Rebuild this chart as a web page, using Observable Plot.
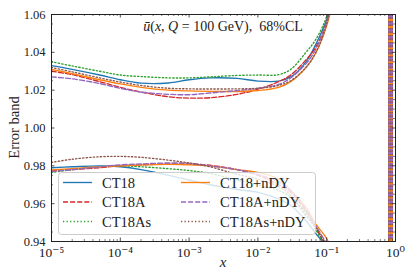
<!DOCTYPE html>
<html><head><meta charset="utf-8">
<script src="https://cdn.jsdelivr.net/npm/d3@7"></script>
<script src="https://cdn.jsdelivr.net/npm/@observablehq/plot@0.6"></script>
<style>
body{margin:0;background:#fff;}
#wrap{position:relative;width:407px;height:271px;overflow:hidden;font-family:"Liberation Serif","DejaVu Serif","Times New Roman",serif;}
#wrap svg{position:absolute;left:0;top:0;}
#wrap text{font-family:"Liberation Serif","DejaVu Serif","Times New Roman",serif;}
</style></head><body><div id="wrap"></div>
<script>
// x grid (log)
const xs = [1e-5, 2e-5, 5e-5, 1e-4, 2e-4, 5e-4, 1e-3, 2e-3, 5e-3, 1e-2, 2e-2, 3e-2, 5e-2, 7e-2, 0.1, 0.13];
const seriesNames = ["CT18", "CT18A", "CT18As", "CT18+nDY", "CT18A+nDY", "CT18As+nDY"];
const seriesColors = ["#1f77b4", "#d62728", "#2ca02c", "#ff7f0e", "#9467bd", "#8c564b"];
const seriesDash = ["none", "5,2.1", "1.3,2.2", "none", "5,2.1", "1.3,2.2"];

const upperCT18      = [1.033, 1.031, 1.028, 1.0255, 1.0237, 1.0238, 1.0255, 1.0265, 1.0262, 1.0248, 1.0248, 1.027, 1.035, 1.0445, 1.0575, 1.075];
const upperCT18A     = [1.030, 1.0282, 1.0245, 1.0215, 1.019, 1.0165, 1.0158, 1.016, 1.0178, 1.0205, 1.0245, 1.028, 1.036, 1.043, 1.056, 1.075];
const upperCT18As    = [1.035, 1.0328, 1.030, 1.028, 1.0272, 1.0265, 1.0265, 1.027, 1.0278, 1.028, 1.0282, 1.031, 1.040, 1.047, 1.059, 1.075];
const upperCT18nDY   = [1.031, 1.0287, 1.0255, 1.0233, 1.0215, 1.020, 1.0196, 1.0194, 1.0193, 1.0198, 1.0215, 1.0245, 1.032, 1.040, 1.054, 1.072];
const upperCT18AnDY  = [1.027, 1.026, 1.0235, 1.021, 1.019, 1.0178, 1.0176, 1.0185, 1.0198, 1.021, 1.023, 1.0265, 1.034, 1.042, 1.056, 1.075];
const upperCT18AsnDY = [1.032, 1.0297, 1.0265, 1.0243, 1.0225, 1.021, 1.0207, 1.0206, 1.0207, 1.021, 1.0225, 1.025, 1.032, 1.040, 1.055, 1.074];

const lowerCT18      = [0.979, 0.9795, 0.980, 0.9795, 0.978, 0.975, 0.9725, 0.970, 0.9675, 0.966, 0.9625, 0.959, 0.951, 0.944, 0.937, 0.925];
const lowerCT18A     = [0.9775, 0.978, 0.979, 0.980, 0.9805, 0.981, 0.981, 0.9803, 0.978, 0.975, 0.970, 0.966, 0.956, 0.947, 0.936, 0.925];
const lowerCT18As    = [0.9765, 0.978, 0.9795, 0.980, 0.9795, 0.9785, 0.9775, 0.976, 0.9725, 0.970, 0.967, 0.9635, 0.955, 0.946, 0.935, 0.924];
const lowerCT18nDY   = [0.9778, 0.9785, 0.9795, 0.980, 0.9805, 0.9808, 0.9805, 0.980, 0.978, 0.9765, 0.973, 0.967, 0.958, 0.949, 0.9415, 0.930];
const lowerCT18AnDY  = [0.977, 0.978, 0.9795, 0.9805, 0.981, 0.9815, 0.9813, 0.980, 0.978, 0.9755, 0.9715, 0.967, 0.957, 0.948, 0.9385, 0.927];
const lowerCT18AsnDY = [0.9818, 0.9835, 0.9848, 0.985, 0.9845, 0.983, 0.9815, 0.9795, 0.9755, 0.973, 0.969, 0.9645, 0.9535, 0.9475, 0.936, 0.925];

// x positions where the relative error diverges (vertical band near x ~ 0.85)
const divergeX = [0.80, 0.85, 0.90];

// axis ticks
const xMajor = [1e-5, 1e-4, 1e-3, 1e-2, 1e-1, 1];
const yMajor = [0.94, 0.96, 0.98, 1.00, 1.02, 1.04, 1.06];
const yDomain = [0.94, 1.06];
const xDomain = [1e-5, 1];

const uppers = [upperCT18, upperCT18A, upperCT18As, upperCT18nDY, upperCT18AnDY, upperCT18AsnDY];
const lowers = [lowerCT18, lowerCT18A, lowerCT18As, lowerCT18nDY, lowerCT18AnDY, lowerCT18AsnDY];

const xMinor = [];
for (let e = -5; e < 0; e++) for (let k = 2; k <= 9; k++) xMinor.push(k * Math.pow(10, e));
const yMinor = d3.range(0, 25).map(i => +(0.94 + i * 0.005).toFixed(3)).filter(v => !yMajor.some(m => Math.abs(m - v) < 1e-9));

const W = 407, H = 271, mL = 51, mR = 12, mT = 14, mB = 30;
const iW = W - mL - mR, iH = H - mT - mB;
const lw = 1.35;
const FF = '"Liberation Serif","DejaVu Serif","Times New Roman",serif';

const sup = {"-": "\u207B", "0": "\u2070", "1": "\u00B9", "2": "\u00B2", "3": "\u00B3", "4": "\u2074", "5": "\u2075"};
const fmtPow = d => "10" + String(Math.round(Math.log10(d))).split("").map(c => sup[c]).join("");

const marks = [];
seriesNames.forEach((name, si) => {
  const rows = [];
  xs.forEach((x, i) => rows.push({x, y: uppers[si][i], band: "upper"}));
  xs.forEach((x, i) => rows.push({x, y: lowers[si][i], band: "lower"}));
  marks.push(Plot.line(rows, {x: "x", y: "y", z: "band", stroke: seriesColors[si], strokeWidth: lw,
    strokeDasharray: seriesDash[si] === "none" ? null : seriesDash[si], curve: "catmull-rom", clip: true}));
});
seriesNames.forEach((name, si) => {
  marks.push(Plot.ruleX(divergeX, {x: d => d, stroke: seriesColors[si], strokeWidth: lw,
    strokeDasharray: seriesDash[si] === "none" ? null : seriesDash[si], clip: true}));
});
// ticks (inward, all four sides)
const tcol = "#222";
marks.push(Plot.tickX(xMajor, {x: d => d, insetTop: iH - 3.5, stroke: tcol, strokeWidth: 0.8}));
marks.push(Plot.tickX(xMajor, {x: d => d, insetBottom: iH - 3.5, stroke: tcol, strokeWidth: 0.8}));
marks.push(Plot.tickX(xMinor, {x: d => d, insetTop: iH - 2, stroke: tcol, strokeWidth: 0.6}));
marks.push(Plot.tickX(xMinor, {x: d => d, insetBottom: iH - 2, stroke: tcol, strokeWidth: 0.6}));
marks.push(Plot.tickY(yMajor, {y: d => d, insetRight: iW - 3.5, stroke: tcol, strokeWidth: 0.8}));
marks.push(Plot.tickY(yMajor, {y: d => d, insetLeft: iW - 3.5, stroke: tcol, strokeWidth: 0.8}));
marks.push(Plot.tickY(yMinor, {y: d => d, insetRight: iW - 2, stroke: tcol, strokeWidth: 0.6}));
marks.push(Plot.tickY(yMinor, {y: d => d, insetLeft: iW - 2, stroke: tcol, strokeWidth: 0.6}));
marks.push(Plot.axisX(xMajor, {tickSize: 0, tickPadding: 6, tickFormat: fmtPow, label: null, fill: "#222", fontSize: 13.5}));
marks.push(Plot.axisY(yMajor, {tickSize: 0, tickPadding: 6, tickFormat: d3.format(".2f"), label: null, fill: "#222", fontSize: 12.5}));
marks.push(Plot.frame({stroke: "#222", strokeWidth: 1}));

const svg = Plot.plot({
  width: W, height: H,
  marginLeft: mL, marginRight: mR, marginTop: mT, marginBottom: mB,
  x: {type: "log", domain: xDomain},
  y: {domain: yDomain},
  style: {fontFamily: FF, fontSize: "12.5px", background: "white", color: "#222"},
  marks
});
svg.setAttribute("font-family", FF);
document.getElementById("wrap").appendChild(svg);

const s = d3.select(svg);
// axis labels
s.append("text").attr("transform", `translate(14,${mT + iH / 2}) rotate(-90)`).attr("text-anchor", "middle")
  .attr("dominant-baseline", "central").style("font-family", FF).attr("font-size", 14.5).attr("fill", "#222").text("Error band");
s.append("text").attr("x", mL + iW / 2).attr("y", 267).attr("text-anchor", "middle").style("font-family", FF)
  .attr("font-size", 15).attr("font-style", "italic").attr("fill", "#222").text("x");
// title
const t = s.append("text").attr("x", mL + iW / 2).attr("y", 31).attr("text-anchor", "middle")
  .style("font-family", FF).attr("font-size", 14).attr("fill", "#222");
[["\u016B", true], ["(", false], ["x", true], [", ", false], ["Q", true], [" = 100 GeV),  68%CL", false]]
  .forEach(([txt, it]) => t.append("tspan").attr("font-style", it ? "italic" : "normal").attr("xml:space", "preserve").text(txt));

// legend overlay
const lg = d3.select("#wrap").append("svg").attr("width", W).attr("height", H);
lg.append("rect").attr("x", 58.5).attr("y", 172.5).attr("width", 257).attr("height", 62).attr("rx", 3)
  .attr("fill", "white").attr("fill-opacity", 0.8).attr("stroke", "#cccccc").attr("stroke-width", 1);
const colX = [63, 181], txtX = [102, 220], rowY = [182.5, 202, 221.5];
seriesNames.forEach((name, si) => {
  const c = Math.floor(si / 3), r = si % 3;
  lg.append("line").attr("x1", colX[c]).attr("x2", colX[c] + 29).attr("y1", rowY[r]).attr("y2", rowY[r])
    .attr("stroke", seriesColors[si]).attr("stroke-width", lw)
    .attr("stroke-dasharray", seriesDash[si] === "none" ? null : seriesDash[si]);
  lg.append("text").attr("x", txtX[c]).attr("y", rowY[r] + 5).style("font-family", FF).attr("font-size", 14.5)
    .attr("fill", "#222").text(name);
});
</script></body></html>
